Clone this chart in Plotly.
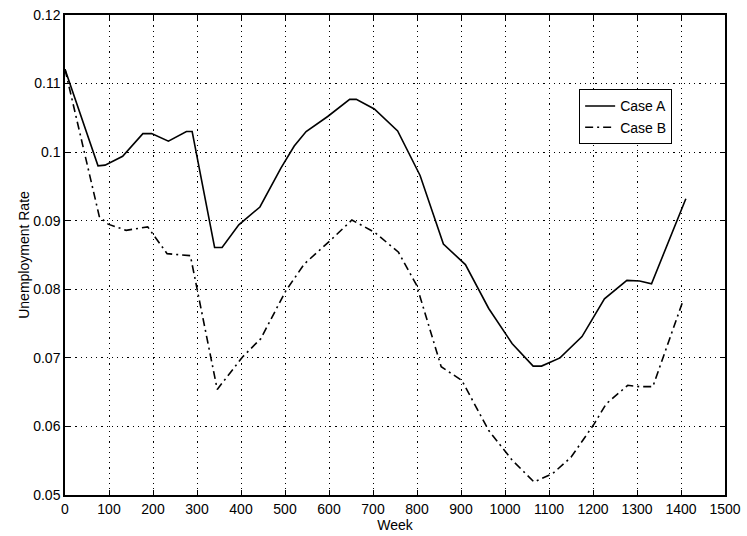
import plotly.graph_objects as go

# Case A (solid)
weeks_a = [0, 75, 91, 131, 177, 197, 235, 276, 289, 340, 357, 395, 443, 491, 521, 548, 597,
           647, 662, 703, 756, 807, 860, 898, 910, 963, 1016, 1064, 1083, 1125, 1175, 1226,
           1277, 1306, 1333, 1411]
rate_a = [0.1121, 0.0980, 0.0981, 0.0994, 0.1027, 0.1027, 0.1016, 0.1030, 0.1030, 0.0861,
          0.0861, 0.0894, 0.0920, 0.0977, 0.1009, 0.1030, 0.1052, 0.1077, 0.1077, 0.1063,
          0.1031, 0.0966, 0.0866, 0.0844, 0.0836, 0.0772, 0.0721, 0.0688, 0.0688, 0.0700,
          0.0731, 0.0786, 0.0813, 0.0812, 0.0808, 0.0932]

# Case B (dash-dot)
weeks_b = [0, 78, 98, 139, 188, 232, 285, 346, 403, 445, 502, 544, 601, 652, 704, 758,
           799, 855, 902, 963, 1016, 1066, 1108, 1150, 1203, 1230, 1279, 1306, 1336, 1405]
rate_b = [0.1121, 0.0906, 0.0895, 0.0886, 0.0891, 0.0852, 0.0849, 0.0654, 0.0701, 0.0728,
          0.0798, 0.0837, 0.0870, 0.0901, 0.0883, 0.0854, 0.0806, 0.0687, 0.0667, 0.0594,
          0.0551, 0.0519, 0.0531, 0.0555, 0.0604, 0.0633, 0.0660, 0.0658, 0.0658, 0.0784]

x_ticks = list(range(0, 1501, 100))
y_ticks = [0.05, 0.06, 0.07, 0.08, 0.09, 0.10, 0.11, 0.12]
y_tick_text = ["0.05", "0.06", "0.07", "0.08", "0.09", "0.1", "0.11", "0.12"]

fig = go.Figure()
fig.add_trace(go.Scatter(x=weeks_a, y=rate_a, mode="lines", name="Case A",
                         line=dict(color="black", width=1.6)))
fig.add_trace(go.Scatter(x=weeks_b, y=rate_b, mode="lines", name="Case B",
                         line=dict(color="black", width=1.6, dash="8px,4px,2px,4px")))

axis_common = dict(
    showline=True, linecolor="black", linewidth=1.5, mirror="ticks",
    ticks="inside", ticklen=5, tickcolor="black", tickwidth=1,
    showgrid=True, gridcolor="black", griddash="1.2px,4px", gridwidth=1.2,
    zeroline=False, tickfont=dict(size=14, color="black"), automargin=False,
)

fig.update_xaxes(range=[0, 1500], tickvals=x_ticks,
                 title=dict(text="Week", font=dict(size=14, color="black"), standoff=0),
                 **axis_common)
fig.update_yaxes(range=[0.05, 0.12], tickvals=y_ticks, ticktext=y_tick_text,
                 title=dict(text="Unemployment Rate", font=dict(size=14, color="black"), standoff=0),
                 **axis_common)

fig.update_layout(
    width=747, height=536,
    margin=dict(l=65, r=22, t=15, b=41),
    paper_bgcolor="white", plot_bgcolor="white",
    font=dict(family="Liberation Sans, Arial, sans-serif", color="black"),
    showlegend=True,
    legend=dict(x=0.779, y=0.845, xanchor="left", yanchor="top",
                bgcolor="white", bordercolor="black", borderwidth=1,
                font=dict(size=14, color="black"), tracegroupgap=0,
                itemwidth=30),
)

# remove the default page margin so the figure sits at the window's top-left corner
fig.write_html("out.html", config={"displayModeBar": False},
               post_script="document.body.style.margin='0';")
